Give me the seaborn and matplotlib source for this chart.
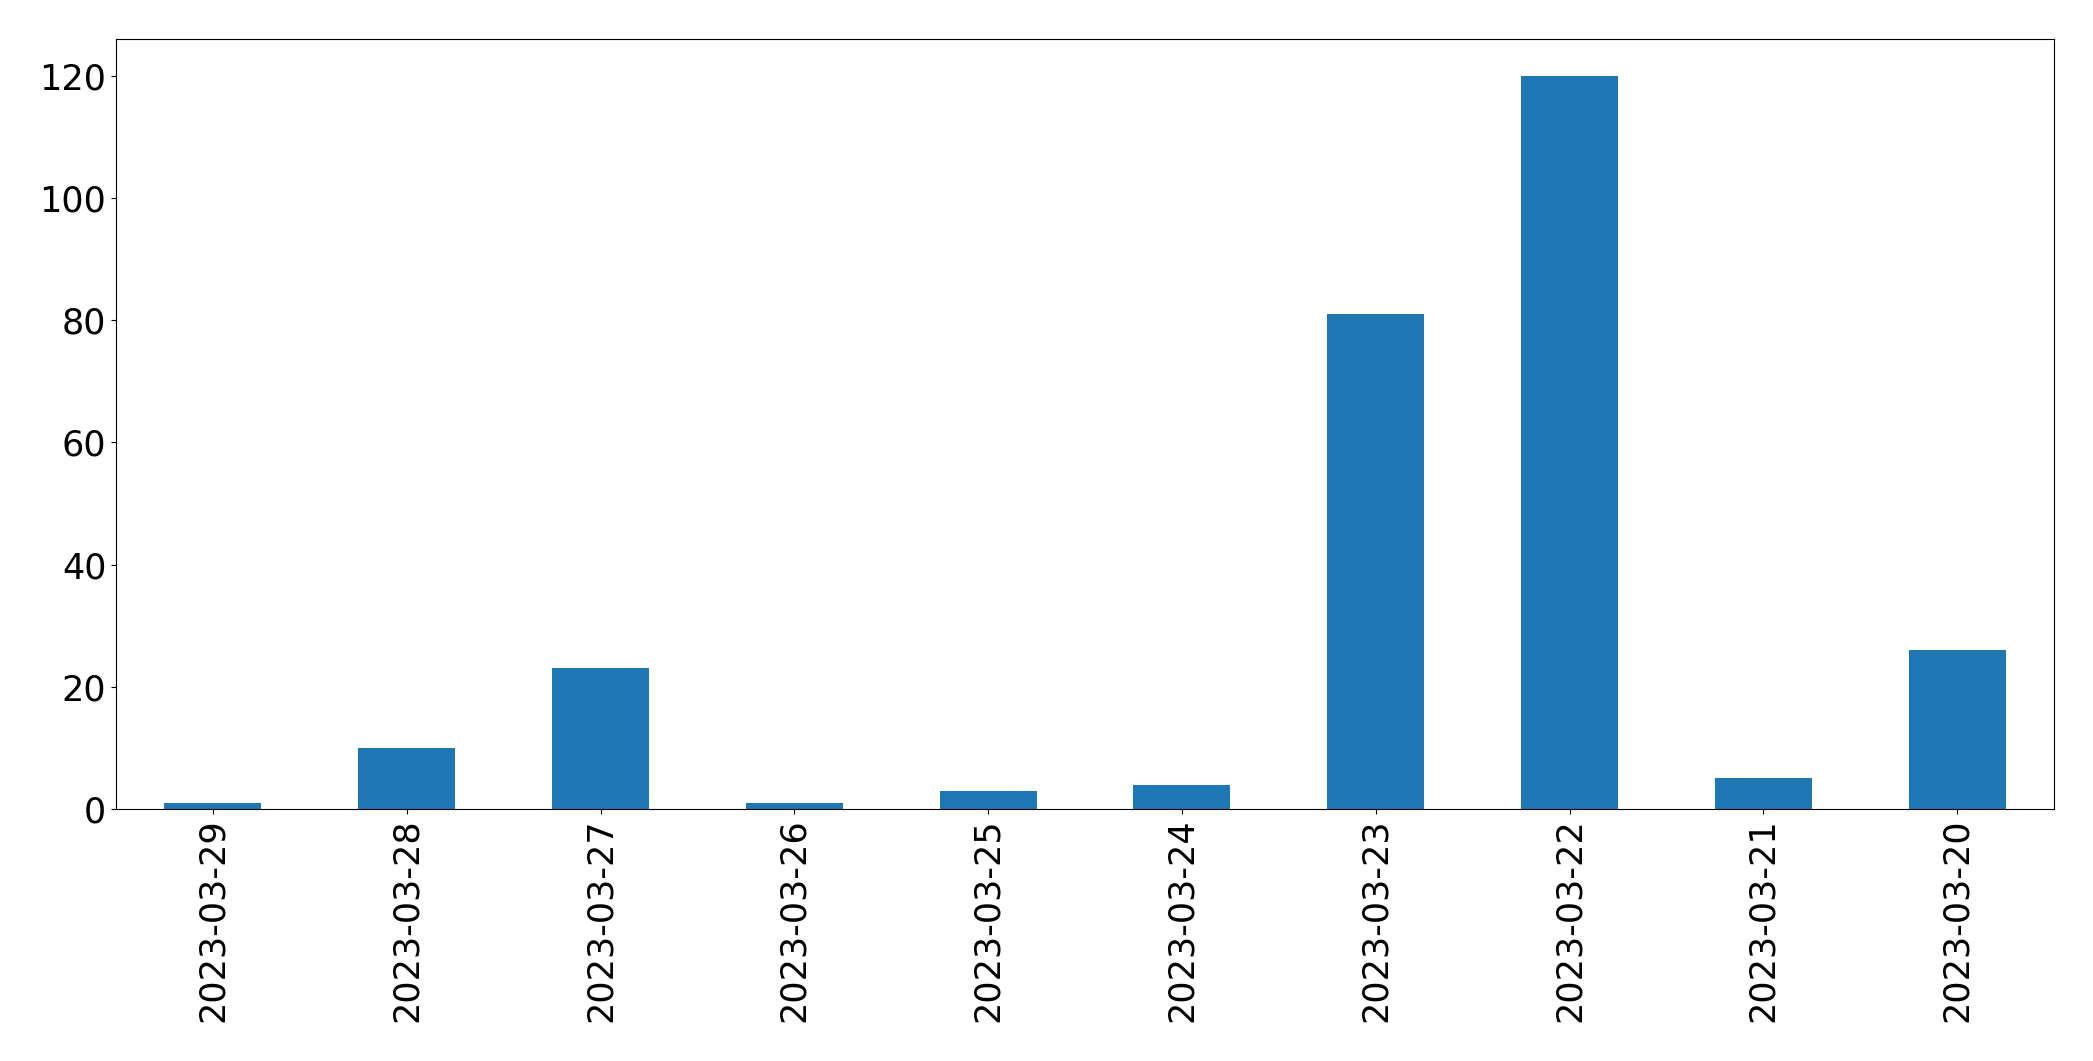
import numpy as np
import pandas as pd
import seaborn as sns
import matplotlib.pyplot as plt

# daily counts, newest first
dates = ['2023-03-29', '2023-03-28', '2023-03-27', '2023-03-26', '2023-03-25',
         '2023-03-24', '2023-03-23', '2023-03-22', '2023-03-21', '2023-03-20']
counts = [1, 10, 23, 1, 3, 4, 81, 120, 5, 26]

df = pd.DataFrame({'date': dates, 'count': counts})

plt.rcParams['font.size'] = 25.2

fig, ax = plt.subplots(figsize=(20.93, 10.61), dpi=100)
fig.subplots_adjust(left=116 / 2093, right=2054 / 2093, top=1 - 39 / 1061, bottom=1 - 809 / 1061)

sns.barplot(data=df, x='date', y='count', color='#1f77b4', saturation=1, width=0.5, ax=ax)

ax.set_xlim(-0.5, len(dates) - 0.5)
ax.set_ylim(0, max(counts) * 1.05)
ax.set_xlabel('')
ax.set_ylabel('')
ax.tick_params(axis='x', labelrotation=90)

plt.savefig('out.png', dpi=100)
